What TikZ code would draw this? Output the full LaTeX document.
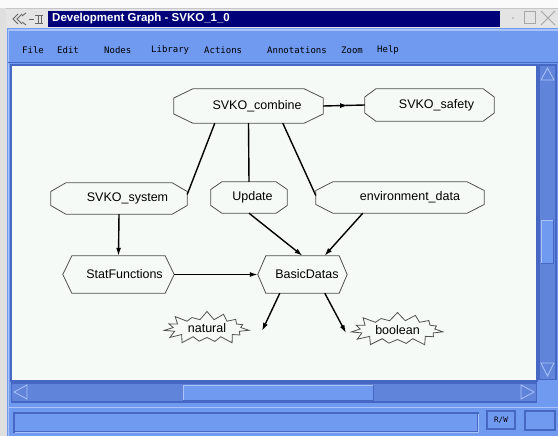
\documentclass[tikz,border=0pt]{standalone}
\usepackage{fontspec}
\setmainfont{Liberation Sans}
\newfontfamily\menufont{DejaVu Sans Mono}
\usetikzlibrary{arrows.meta,calc,shapes.symbols,decorations.markings}
\definecolor{winblue}{RGB}{112,153,240}
\definecolor{darkblue}{RGB}{70,104,196}
\definecolor{trough}{RGB}{96,132,218}
\definecolor{hilite}{RGB}{170,196,250}
\definecolor{canvasbg}{RGB}{245,250,247}
\definecolor{navy}{RGB}{0,0,120}
\definecolor{framegray}{RGB}{228,228,228}
\definecolor{outl}{RGB}{80,80,80}
\newcommand\octa[3]{\draw[nodeline] ($(#1.north west)+(#2pt,0pt)$) -- ($(#1.north east)+(-#2pt,0pt)$) -- ($(#1.east)+(0pt,#3pt)$) -- ($(#1.east)+(0pt,-#3pt)$) -- ($(#1.south east)+(-#2pt,0pt)$) -- ($(#1.south west)+(#2pt,0pt)$) -- ($(#1.west)+(0pt,-#3pt)$) -- ($(#1.west)+(0pt,#3pt)$) -- cycle;}
\newcommand\hexa[2]{\draw[nodeline] ($(#1.north west)+(#2pt,0pt)$) -- ($(#1.north east)+(-#2pt,0pt)$) -- (#1.east) -- ($(#1.south east)+(-#2pt,0pt)$) -- ($(#1.south west)+(#2pt,0pt)$) -- (#1.west) -- cycle;}
\tikzset{
  gnode/.style={draw=none, inner sep=0pt, font=\fontsize{12.5}{14}\selectfont},
  nodeline/.style={draw=outl, line width=0.8pt, fill=canvasbg},
  starnode/.style={starburst, draw=outl, line width=0.8pt, fill=canvasbg, inner sep=0pt, starburst points=15, starburst point height=9pt, random starburst=40, font=\fontsize{12.5}{14}\selectfont},
  edgeline/.style={draw=black, line width=1.4pt},
  arr/.style={edgeline, -{Latex[length=8pt,width=5pt]}},
  midarr/.style={edgeline, postaction={decorate}, decoration={markings, mark=at position 0.6 with {\arrow{Latex[length=8pt,width=5pt]}}}},
  menu/.style={font=\menufont\fontsize{9}{10}\selectfont, anchor=west, inner sep=0pt},
  sunken/.style={draw=darkblue, line width=1.2pt},
  glyph/.style={draw=gray!80!black, line width=0.9pt}
}
\begin{document}
\begin{tikzpicture}[x=1pt,y=-1pt]
\useasboundingbox (0,0) rectangle (558,436);
% outer backgrounds
\fill[white!96!gray] (0,0) rectangle (558,436);
\fill[gray!25] (0,8) rectangle (7,436);
% title bar
\fill[framegray] (6,8) rectangle (558,28);
\draw[gray!45, line width=0.6pt] (6,8.5) -- (558,8.5);
\fill[navy] (48,11) rectangle (500,27);
\node[font=\bfseries\fontsize{11.5}{12}\selectfont, text=white, anchor=west, inner sep=0pt] (title) at (52,19) {Development Graph - SVKO\_1\_0};
% title icons (left)
\draw[glyph] (18,14) -- (13,19) -- (18,24);
\draw[glyph] (22,14) -- (17,19) -- (22,24);
\draw[glyph] (22,16) -- (26,13) (22,22) -- (26,25);
\draw[glyph] (29,19) -- (34,19);
\draw[glyph] (35,15) -- (43,15) (35,23) -- (43,23) (38,15) -- (38,23) (41,15) -- (41,23);
% title icons (right)
\fill[gray!70] (513,18) circle (0.9);
\draw[gray!70, line width=1pt] (524,12) rectangle (535,24);
\draw[gray!70, line width=1pt] (541,11) -- (555,25) (555,11) -- (541,25);
% window body
\fill[winblue] (7,28) rectangle (558,436);
\draw[hilite, line width=1.5pt] (8,30) -- (558,30);
\draw[hilite, line width=1pt] (8,30) -- (8,436);
% menu
\node[menu] (mfile) at (22,50) {File};
\node[menu] (medit) at (57,50) {Edit};
\node[menu] (mnodes) at (104,50) {Nodes};
\node[menu] (mlib) at (151,50) {Library};
\node[menu] (mact) at (204,50) {Actions};
\node[menu] (mann) at (267,50) {Annotations};
\node[menu] (mzoom) at (341,50) {Zoom};
\node[menu] (mhelp) at (377,50) {Help};
\draw[darkblue, line width=1pt] (8,63) -- (558,63);
% canvas
\fill[darkblue] (10,64) rectangle (538,382);
\fill[canvasbg] (12,66) rectangle (536,380);
% vertical scrollbar
\fill[darkblue] (538,64) rectangle (557,380);
\fill[trough] (540,66) rectangle (555,379);
\draw[hilite, line width=0.8pt] (541,80) -- (547.5,68) -- (554,80) -- cycle;
\draw[hilite, line width=0.8pt] (541,363) -- (547.5,376) -- (554,363) -- cycle;
\fill[winblue] (541,220) rectangle (553,263);
\draw[hilite, line width=0.8pt] (541,263) -- (541,220) -- (553,220);
\draw[darkblue, line width=0.8pt] (553,220) -- (553,263) -- (541,263);
% horizontal scrollbar
\fill[darkblue] (11,382) rectangle (537,403);
\fill[trough] (12,384) rectangle (536,401);
\draw[hilite, line width=0.8pt] (27,385) -- (14,392) -- (27,399) -- cycle;
\draw[hilite, line width=0.8pt] (521,385) -- (534,392) -- (521,399) -- cycle;
\fill[winblue] (183,385) rectangle (373,400);
\draw[hilite, line width=0.8pt] (183,400) -- (183,385) -- (373,385);
\draw[darkblue, line width=0.8pt] (373,385) -- (373,400) -- (183,400);
% status bar
\draw[hilite, line width=1pt] (8,407) -- (558,407);
\draw[sunken] (14,413) rectangle (478,432);
\draw[hilite, line width=0.8pt] (15,432) -- (478,432) -- (478,414);
\draw[sunken] (487,411) rectangle (515,429);
\node[font=\menufont\fontsize{7.5}{9}\selectfont, inner sep=0pt] (rw) at (501,420) {R/W};
\draw[sunken] (525,411) rectangle (555,430);
% graph nodes
\node[gnode, minimum width=149pt, minimum height=34pt] (comb) at (248.5,106) {};
\node[gnode, minimum width=129pt, minimum height=32pt] (safe) at (429.5,105) {};
\node[gnode, minimum width=136pt, minimum height=31pt] (sys) at (119,198.5) {};
\node[gnode, minimum width=76pt, minimum height=31pt] (upd) at (249,197.5) {};
\node[gnode, minimum width=168pt, minimum height=31pt] (env) at (400,197.5) {};
\node[gnode, minimum width=111pt, minimum height=37pt] (statf) at (118.5,274.5) {};
\node[gnode, minimum width=89pt, minimum height=37pt] (basic) at (302.5,274.5) {};
\octa{comb}{19}{8}
\octa{safe}{11}{8}
\octa{sys}{15}{7}
\octa{upd}{11}{8}
\octa{env}{17}{7}
\hexa{statf}{9}
\hexa{basic}{8}
\node[gnode] (combt) at (comb) {\hspace*{17pt}SVKO\_combine};
\node[gnode] (safet) at (safe) {\hspace*{14pt}SVKO\_safety};
\node[gnode] (syst) at (sys) {\hspace*{17pt}SVKO\_system};
\node[gnode] (updt) at (upd) {\hspace*{7pt}Update};
\node[gnode] (envt) at (env) {\hspace*{20pt}environment\_data};
\node[gnode] (statft) at (statf) {\hspace*{12pt}StatFunctions};
\node[gnode] (basict) at (basic) {\hspace*{9pt}BasicDatas};
\node[starnode, minimum width=86pt, minimum height=36pt] (nat) at (207,328.5) {natural};
\node[starnode, minimum width=93pt, minimum height=37pt] (bool) at (397.5,330) {boolean};
\coordinate (natend) at (262,331);
\coordinate (boolend) at (346,333);
% edges
\draw[midarr] (comb.east) -- (safe.west);
\draw[edgeline] ($(comb.south west)+(41pt,0pt)$) -- ($(sys.east)+(0pt,4pt)$);
\draw[edgeline] (comb.south) -- (upd.north);
\draw[edgeline] ($(comb.south west)+(109pt,0pt)$) -- ($(env.west)+(0pt,2pt)$);
\draw[arr] (sys.south) -- (statf.north);
\draw[arr] (upd.south) -- (basic.north);
\draw[arr] ($(env.south west)+(47pt,0pt)$) -- ($(basic.north)+(22pt,0pt)$);
\draw[arr] (statf.east) -- (basic.west);
\draw[arr] ($(basic.south west)+(22pt,0pt)$) -- (natend);
\draw[arr] ($(basic.south west)+(67pt,0pt)$) -- (boolend);
\end{tikzpicture}
\end{document}
